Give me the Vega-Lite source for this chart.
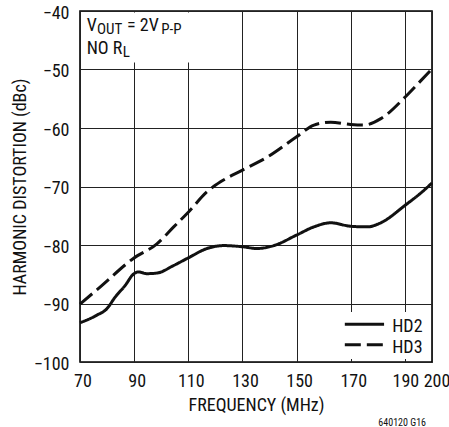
{
  "$schema": "https://vega.github.io/schema/vega-lite/v6.json",
  "width": 352,
  "height": 351,
  "autosize": {"type": "none"},
  "padding": {"left": 80, "top": 11, "right": 17, "bottom": 65},
  "config": {
    "font": "Roboto Condensed",
    "view": {"stroke": "#000", "strokeWidth": 1.6},
    "axis": {
      "grid": true,
      "gridColor": "#222",
      "gridWidth": 1,
      "gridOpacity": 1,
      "domain": false,
      "ticks": false,
      "labelOverlap": false,
      "labelFlush": false,
      "labelFont": "Roboto Condensed",
      "labelFontSize": 18,
      "labelFontWeight": "normal",
      "labelColor": "#111",
      "titleFont": "Roboto Condensed",
      "titleFontSize": 18,
      "titleFontWeight": "normal",
      "titleColor": "#111"
    }
  },
  "datasets": {
    "curves": [
      {"f": 70, "d": -93.3, "s": "HD2"},
      {"f": 76.2, "d": -92.0, "s": "HD2"},
      {"f": 79.9, "d": -90.9, "s": "HD2"},
      {"f": 83, "d": -88.9, "s": "HD2"},
      {"f": 86.7, "d": -86.9, "s": "HD2"},
      {"f": 89.7, "d": -85.0, "s": "HD2"},
      {"f": 91.6, "d": -84.6, "s": "HD2"},
      {"f": 94.7, "d": -84.9, "s": "HD2"},
      {"f": 98.4, "d": -84.8, "s": "HD2"},
      {"f": 104.6, "d": -83.5, "s": "HD2"},
      {"f": 110, "d": -82.2, "s": "HD2"},
      {"f": 116.9, "d": -80.6, "s": "HD2"},
      {"f": 123.1, "d": -80.1, "s": "HD2"},
      {"f": 130, "d": -80.3, "s": "HD2"},
      {"f": 135.4, "d": -80.6, "s": "HD2"},
      {"f": 141.6, "d": -80.1, "s": "HD2"},
      {"f": 150, "d": -78.3, "s": "HD2"},
      {"f": 156.4, "d": -76.9, "s": "HD2"},
      {"f": 162.6, "d": -76.2, "s": "HD2"},
      {"f": 170, "d": -76.8, "s": "HD2"},
      {"f": 176.2, "d": -76.9, "s": "HD2"},
      {"f": 181.1, "d": -76.2, "s": "HD2"},
      {"f": 190.1, "d": -73.2, "s": "HD2"},
      {"f": 195.9, "d": -71.1, "s": "HD2"},
      {"f": 200, "d": -69.4, "s": "HD2"},
      {"f": 70, "d": -90.1, "s": "HD3"},
      {"f": 77.4, "d": -87.2, "s": "HD3"},
      {"f": 89.7, "d": -82.3, "s": "HD3"},
      {"f": 98.4, "d": -79.8, "s": "HD3"},
      {"f": 104.6, "d": -76.9, "s": "HD3"},
      {"f": 110, "d": -74.4, "s": "HD3"},
      {"f": 116.9, "d": -70.9, "s": "HD3"},
      {"f": 121.9, "d": -69.2, "s": "HD3"},
      {"f": 130, "d": -67.2, "s": "HD3"},
      {"f": 139.1, "d": -65.0, "s": "HD3"},
      {"f": 150, "d": -61.5, "s": "HD3"},
      {"f": 156.4, "d": -59.5, "s": "HD3"},
      {"f": 162.6, "d": -59.0, "s": "HD3"},
      {"f": 170, "d": -59.4, "s": "HD3"},
      {"f": 174.9, "d": -59.5, "s": "HD3"},
      {"f": 181.1, "d": -58.4, "s": "HD3"},
      {"f": 190.1, "d": -54.7, "s": "HD3"},
      {"f": 195.9, "d": -51.9, "s": "HD3"},
      {"f": 200, "d": -49.9, "s": "HD3"}
    ],
    "box": [
      {"x1": 70.4, "x2": 116, "y1": -40.25, "y2": -48.8},
      {"x1": 167.0, "x2": 199.5, "y1": -91.45, "y2": -99.5}
    ],
    "legendRows": [
      {"s": "HD2", "x1": 167.8, "x2": 182.3, "tx": 185.3, "y": -93.56, "ty": -94.87},
      {"s": "HD3", "x1": 167.8, "x2": 182.3, "tx": 185.3, "y": -97.03, "ty": -98.46}
    ],
    "mainText": [
      {"x": 72.48, "y": -43.4, "t": "V"},
      {"x": 87.4, "y": -43.4, "t": "= 2V"},
      {"x": 72.48, "y": -47.35, "t": "NO R"}
    ],
    "subText": [
      {"x": 76.3, "y": -43.92, "t": "OUT"},
      {"x": 100.0, "y": -43.92, "t": "P-P"},
      {"x": 85.8, "y": -47.9, "t": "L"}
    ],
    "footer": [{"x": 197.8, "y": -111.0, "t": "640120 G16"}]
  },
  "layer": [
    {
      "data": {"name": "box"},
      "mark": {"type": "rect", "fill": "white"},
      "encoding": {
        "x": {"field": "x1", "type": "quantitative", "scale": {"domain": [70, 200]}},
        "x2": {"field": "x2"},
        "y": {"field": "y1", "type": "quantitative", "scale": {"domain": [-100, -40]}},
        "y2": {"field": "y2"}
      }
    },
    {
      "data": {"name": "curves"},
      "mark": {"type": "line", "interpolate": "monotone", "strokeWidth": 3, "color": "#111"},
      "encoding": {
        "x": {
          "field": "f", "type": "quantitative",
          "scale": {"domain": [70, 200], "nice": false},
          "axis": {
            "values": [70, 90, 110, 130, 150, 170, 190, 200],
            "title": "FREQUENCY (MHz)",
            "labelPadding": 10,
            "labelOffset": {"condition": [{"test": "datum.value == 200", "value": 4.5}, {"test": "datum.value == 190", "value": 0.5}], "value": 2.5},
            "titlePadding": 6
          }
        },
        "y": {
          "field": "d", "type": "quantitative",
          "scale": {"domain": [-100, -40], "nice": false},
          "axis": {"values": [-100, -90, -80, -70, -60, -50, -40], "title": "HARMONIC DISTORTION (dBc)", "labelPadding": 11, "labelOffset": 2, "titlePadding": 4}
        },
        "strokeDash": {
          "field": "s", "type": "nominal",
          "scale": {"domain": ["HD2", "HD3"], "range": [[1, 0], [16, 6]]},
          "legend": null
        }
      }
    },
    {
      "data": {"name": "legendRows"},
      "mark": {"type": "rule", "strokeWidth": 3, "color": "#111"},
      "encoding": {
        "x": {"field": "x1", "type": "quantitative"},
        "x2": {"field": "x2"},
        "y": {"field": "y", "type": "quantitative"},
        "strokeDash": {"field": "s", "type": "nominal", "legend": null}
      }
    },
    {
      "data": {"name": "legendRows"},
      "mark": {"type": "text", "align": "left", "baseline": "alphabetic", "fontSize": 18, "color": "#111"},
      "encoding": {
        "x": {"field": "tx", "type": "quantitative"},
        "y": {"field": "ty", "type": "quantitative"},
        "text": {"field": "s"}
      }
    },
    {
      "data": {"name": "mainText"},
      "mark": {"type": "text", "align": "left", "baseline": "alphabetic", "fontSize": 18, "color": "#111"},
      "encoding": {
        "x": {"field": "x", "type": "quantitative"},
        "y": {"field": "y", "type": "quantitative"},
        "text": {"field": "t"}
      }
    },
    {
      "data": {"name": "subText"},
      "mark": {"type": "text", "align": "left", "baseline": "alphabetic", "fontSize": 15, "color": "#111"},
      "encoding": {
        "x": {"field": "x", "type": "quantitative"},
        "y": {"field": "y", "type": "quantitative"},
        "text": {"field": "t"}
      }
    },
    {
      "data": {"name": "footer"},
      "mark": {"type": "text", "align": "right", "baseline": "alphabetic", "fontSize": 10, "color": "#111"},
      "encoding": {
        "x": {"field": "x", "type": "quantitative"},
        "y": {"field": "y", "type": "quantitative"},
        "text": {"field": "t"}
      }
    }
  ]
}
